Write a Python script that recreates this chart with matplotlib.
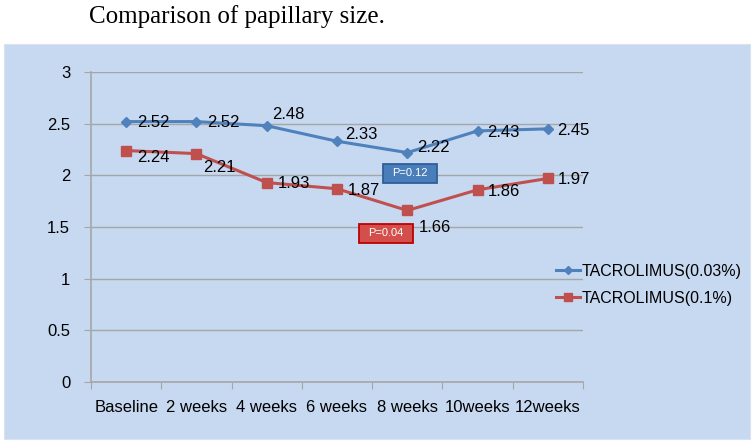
import matplotlib.pyplot as plt
from matplotlib.patches import Rectangle

categories = ["Baseline", "2 weeks", "4 weeks", "6 weeks", "8 weeks", "10weeks", "12weeks"]
tac_003 = [2.52, 2.52, 2.48, 2.33, 2.22, 2.43, 2.45]
tac_01 = [2.24, 2.21, 1.93, 1.87, 1.66, 1.86, 1.97]
series_names = ["TACROLIMUS(0.03%)", "TACROLIMUS(0.1%)"]
yticks = [0, 0.5, 1, 1.5, 2, 2.5, 3]
p_labels = ["P=0.12", "P=0.04"]

blue = "#4F81BD"
red = "#C0504D"
panel = "#C6D9F1"
grid = "#A6A6A6"

plt.rcParams["font.family"] = ["Liberation Sans", "DejaVu Sans"]

fig = plt.figure(figsize=(7.56, 4.45), dpi=100)
fig.patch.set_facecolor("white")

# light blue chart area behind everything
fig.patches.append(Rectangle((4 / 756, 6 / 445), 746 / 756, 395 / 445,
                             transform=fig.transFigure, facecolor=panel,
                             edgecolor="#D9E3F0", lw=0.8, zorder=-5))

fig.text(237 / 756, 1 - 17 / 445, "Comparison of papillary size.",
         family="Liberation Serif", fontsize=18, ha="center", va="center")

ax = fig.add_axes([91 / 756, 63 / 445, 492 / 756, 310 / 445])
ax.set_facecolor("none")

x = list(range(len(categories)))
ax.plot(x, tac_003, color=blue, lw=2.2, marker="D", ms=5, label=series_names[0], zorder=3)
ax.plot(x, tac_01, color=red, lw=2.2, marker="s", ms=6.5, label=series_names[1], zorder=3)

ax.set_xlim(-0.5, len(categories) - 0.5)
ax.set_ylim(0, 3)
ax.set_yticks(yticks)
ax.set_yticklabels([f"{v:g}" for v in yticks], fontsize=12)
ax.yaxis.grid(True, color=grid, lw=1)
ax.set_axisbelow(True)

# category boundaries as tick marks, labels at category centers
ax.set_xticks([i - 0.5 for i in range(len(categories) + 1)])
ax.set_xticklabels([])
ax.set_xticks(x, minor=True)
ax.set_xticklabels(categories, minor=True, fontsize=12)
ax.tick_params(axis="x", which="major", length=5, color=grid)
ax.tick_params(axis="x", which="minor", length=0, pad=13)
ax.tick_params(axis="y", length=5, color=grid, pad=10)

for side in ["top", "right"]:
    ax.spines[side].set_visible(False)
for side in ["left", "bottom"]:
    ax.spines[side].set_color(grid)
    ax.spines[side].set_linewidth(1.2)

# data labels (offsets in points)
blue_off = [(8, -1), (8, -1), (4, 8), (6, 5), (7, 4), (7, -1), (7, -1)]
red_off = [(8, -5), (5, -10), (8, -1), (8, -1), (8, -12), (7, -1), (7, -1)]
for i, v in enumerate(tac_003):
    ax.annotate(f"{v:.2f}", (i, v), xytext=blue_off[i], textcoords="offset points",
                fontsize=12, va="center", ha="left")
for i, v in enumerate(tac_01):
    ax.annotate(f"{v:.2f}", (i, v), xytext=red_off[i], textcoords="offset points",
                fontsize=12, va="center", ha="left")

# p-value boxes
box_w, box_h = 0.77, 0.18
for (cx, cy), txt, fc, ec in [((4.04, 2.02), p_labels[0], "#4A7EBB", "#2F5F98"),
                              ((3.70, 1.44), p_labels[1], "#D24F4C", "#C00000")]:
    ax.add_patch(Rectangle((cx - box_w / 2, cy - box_h / 2), box_w, box_h,
                           facecolor=fc, edgecolor=ec, lw=1.3, zorder=4))
    ax.text(cx, cy, txt, color="white", fontsize=8, ha="center", va="center", zorder=5)

ax.legend(loc="center left", bbox_to_anchor=(556 / 756, 1 - 285 / 445),
          bbox_transform=fig.transFigure, frameon=False, fontsize=11.5,
          borderpad=0, borderaxespad=0, handlelength=1.5, handletextpad=0.1,
          labelspacing=0.75, markerscale=0.8)

fig.savefig("out.png", dpi=100)
